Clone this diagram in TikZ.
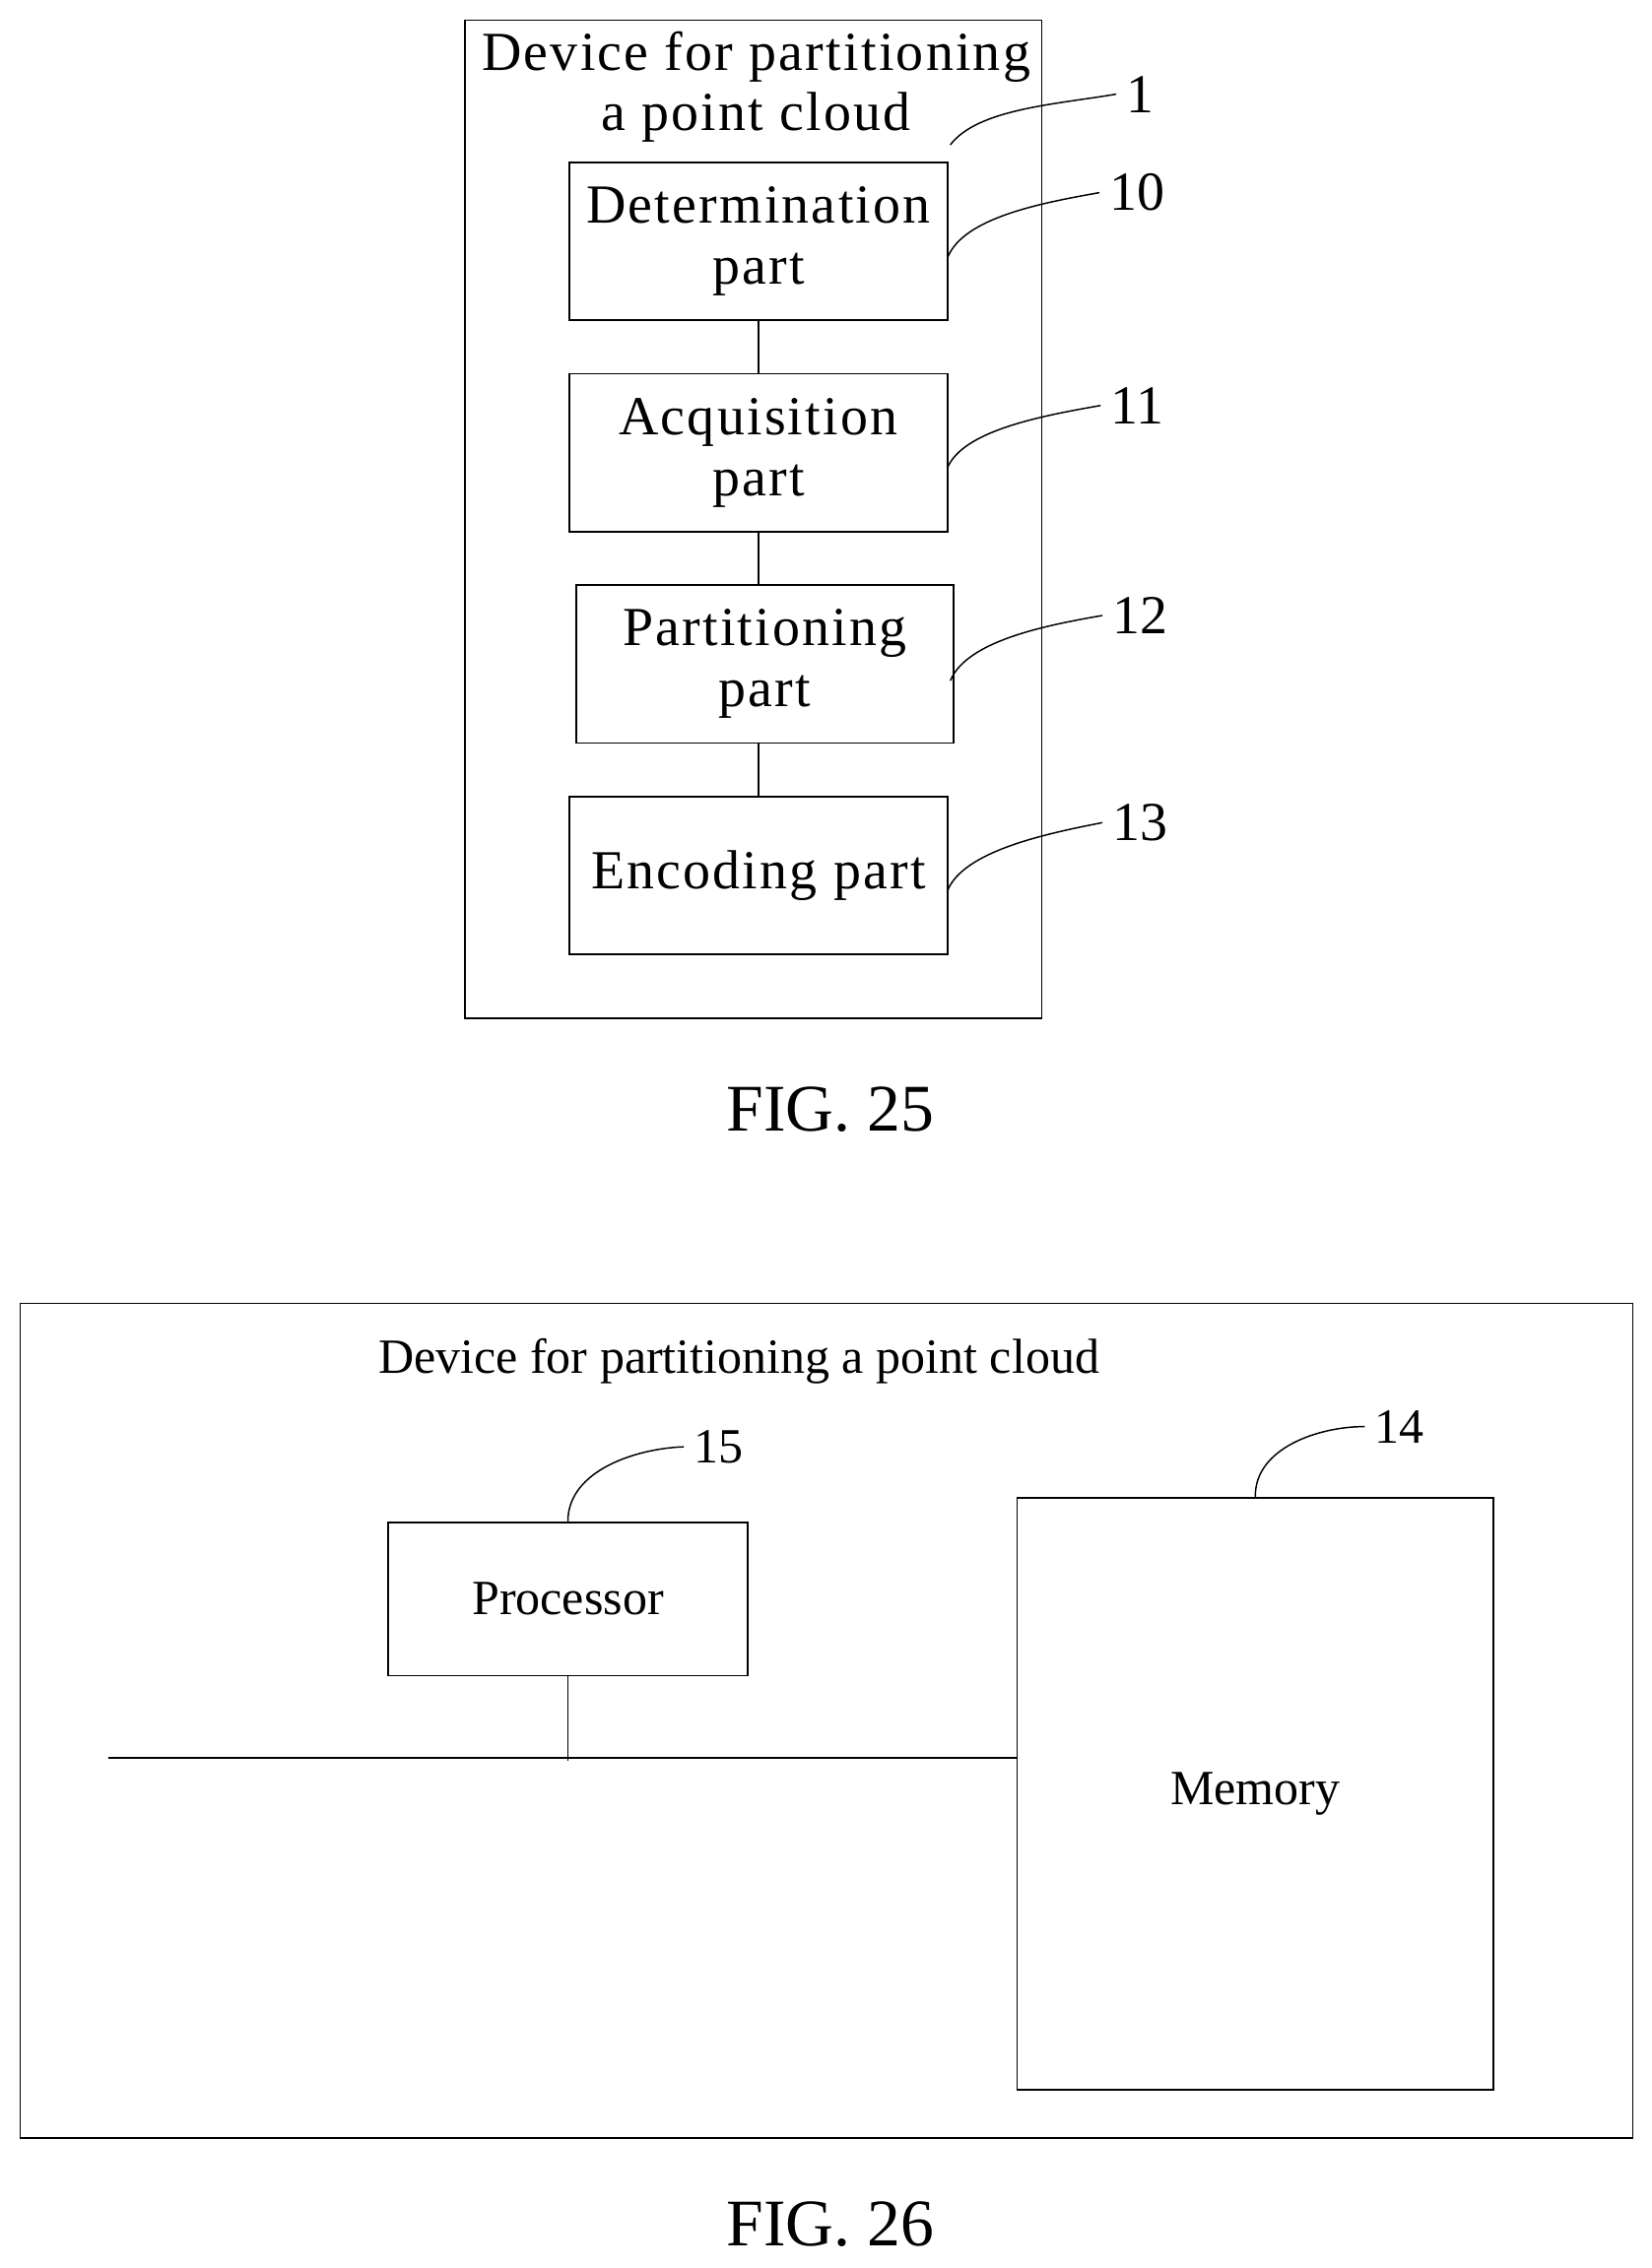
\documentclass[tikz,border=0pt]{standalone}
\usepackage{fontspec}
\setmainfont{Liberation Serif}
\newfontfamily\spaced[LetterSpace=4]{Liberation Serif}
\begin{document}
\begin{tikzpicture}[x=0.5pt,y=-0.5pt,
  box/.style={draw,line width=0.6pt,inner sep=0},
  big/.style={font=\spaced\fontsize{19}{21}\selectfont,align=center},
  num/.style={font=\fontsize{19}{21}\selectfont},
  small/.style={font=\fontsize{17}{20}\selectfont},
  fig/.style={font=\fontsize{23}{26}\selectfont},
  lead/.style={line width=0.5pt}]
\useasboundingbox (0,0) rectangle (1140,1566);
% FIG 25
\draw[line width=0.6pt] (321,14) rectangle (719,703);
\node[big] (t1) at (522,60) {Device for partitioning\\a point cloud};
\node[box,minimum width=130.5pt,minimum height=54.5pt,big] (d) at (523.5,166.5) {Determination\\part};
\node[box,minimum width=130.5pt,minimum height=54.5pt,big] (a) at (523.5,312.5) {Acquisition\\part};
\node[box,minimum width=130pt,minimum height=54.5pt,big] (p) at (528,458.5) {Partitioning\\part};
\node[box,minimum width=130.5pt,minimum height=54.5pt,big] (e) at (523.5,604.5) {Encoding part};
\draw[line width=0.6pt] (d.south) -- (a.north);
\draw[line width=0.6pt] (a.south) -- (a.south |- p.north);
\draw[line width=0.6pt] (a.south |- p.south) -- (a.south |- e.north);
\node[num] (n1) at (787,65) {1};
\node[num] (n10) at (785,133) {10};
\node[num] (n11) at (785,280) {11};
\node[num] (n12) at (787,425) {12};
\node[num] (n13) at (787,568) {13};
\coordinate (c1) at (656,100);
\draw[lead] (c1) .. controls (675,75) and (730,72) .. (n1.west);
\draw[lead] (654,178) .. controls (665,150) and (720,140) .. (n10.west);
\draw[lead] (654,323) .. controls (665,297) and (720,287) .. (n11.west);
\draw[lead] (656,470) .. controls (667,443) and (720,432) .. (n12.west);
\draw[lead] (654,615) .. controls (665,588) and (720,576) .. (n13.west);
\node[fig] (f25) at (573,766) {FIG. 25};
% FIG 26
\draw[line width=0.6pt] (14,900) rectangle (1127,1476);
\node[small] (t2) at (510,940) {Device for partitioning a point cloud};
\node[box,minimum width=124pt,minimum height=53pt,small] (pr) at (392,1104) {Processor};
\node[box,minimum width=164.5pt,minimum height=204.5pt,small] (m) at (866.5,1238.5) {Memory};
\coordinate (l0) at (75,1214);
\coordinate (l1) at (702,1214);
\draw[line width=0.6pt] (l0) -- (l1);
\draw[line width=0.6pt] (pr.south) -- (392,1216);
\node[small] (n15) at (496,999) {15};
\node[small] (n14) at (966,985) {14};
\draw[lead] (pr.north) .. controls (392,1015) and (440,1000) .. (n15.west);
\draw[lead] (m.north) .. controls (866,1000) and (910,985) .. (n14.west);
\node[fig] (f26) at (573,1536) {FIG. 26};
\end{tikzpicture}
\end{document}
